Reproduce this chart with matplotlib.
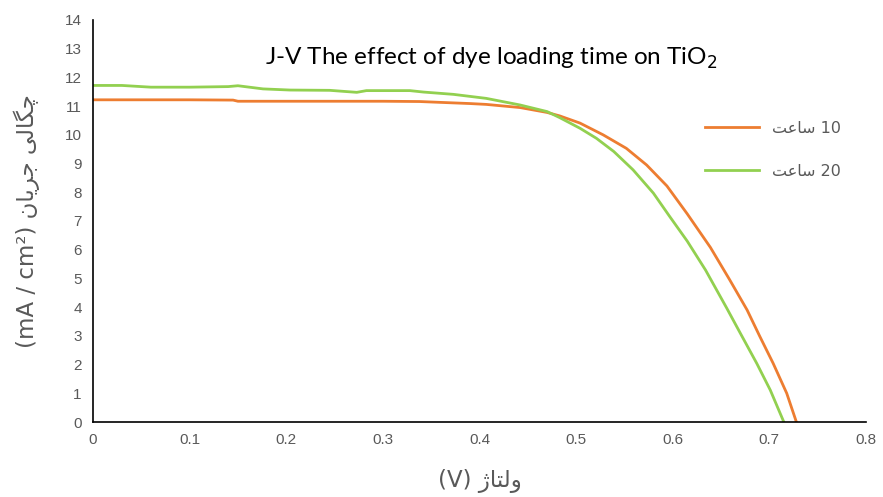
import matplotlib
matplotlib.use("Agg")
import matplotlib.pyplot as plt

# J-V data
v_10h = [0, 0.05, 0.10, 0.145, 0.15, 0.20, 0.25, 0.30, 0.338, 0.36, 0.39, 0.407,
         0.442, 0.470, 0.483, 0.504, 0.528, 0.552, 0.573, 0.594, 0.615, 0.639,
         0.659, 0.677, 0.690, 0.704, 0.718, 0.728]
j_10h = [11.22, 11.22, 11.22, 11.21, 11.17, 11.17, 11.17, 11.17, 11.16, 11.13, 11.09, 11.06,
         10.95, 10.78, 10.66, 10.41, 10.00, 9.53, 8.95, 8.22, 7.25, 6.08,
         4.95, 3.90, 2.99, 2.04, 1.00, 0]

v_20h = [0, 0.03, 0.06, 0.10, 0.14, 0.15, 0.176, 0.204, 0.245, 0.273, 0.283, 0.328,
         0.342, 0.373, 0.407, 0.442, 0.470, 0.483, 0.504, 0.521, 0.539, 0.559,
         0.580, 0.597, 0.615, 0.634, 0.656, 0.670, 0.687, 0.701, 0.715]
j_20h = [11.72, 11.72, 11.66, 11.66, 11.68, 11.71, 11.60, 11.56, 11.55, 11.48, 11.54, 11.54,
         11.49, 11.41, 11.27, 11.04, 10.81, 10.60, 10.23, 9.88, 9.42, 8.78,
         7.97, 7.15, 6.30, 5.29, 3.96, 3.09, 2.04, 1.11, 0]

x_ticks = [0, 0.1, 0.2, 0.3, 0.4, 0.5, 0.6, 0.7, 0.8]
x_tick_labels = ["0", "0.1", "0.2", "0.3", "0.4", "0.5", "0.6", "0.7", "0.8"]
y_ticks = list(range(0, 15))

# matplotlib does no Arabic shaping, so pick the contextual forms by hand
# forms: (isolated, final, initial, medial)
FORMS = {
    "ا": ("\uFE8D", "\uFE8E", None, None),
    "ت": ("\uFE95", "\uFE96", "\uFE97", "\uFE98"),
    "ج": ("\uFE9D", "\uFE9E", "\uFE9F", "\uFEA0"),
    "ر": ("\uFEAD", "\uFEAE", None, None),
    "ژ": ("\uFB8A", "\uFB8B", None, None),
    "س": ("\uFEB1", "\uFEB2", "\uFEB3", "\uFEB4"),
    "ع": ("\uFEC9", "\uFECA", "\uFECB", "\uFECC"),
    "ل": ("\uFEDD", "\uFEDE", "\uFEDF", "\uFEE0"),
    "ن": ("\uFEE5", "\uFEE6", "\uFEE7", "\uFEE8"),
    "و": ("\uFEED", "\uFEEE", None, None),
    "ی": ("\uFBFC", "\uFBFD", "\uFBFE", "\uFBFF"),
    "چ": ("\uFB7A", "\uFB7B", "\uFB7C", "\uFB7D"),
    "گ": ("\uFB92", "\uFB93", "\uFB94", "\uFB95"),
}


def shape(word):
    out = []
    for i, ch in enumerate(word):
        f = FORMS[ch]
        prev = word[i - 1] if i > 0 else None
        nxt = word[i + 1] if i + 1 < len(word) else None
        join_prev = prev is not None and FORMS[prev][2] is not None
        join_next = nxt is not None and f[2] is not None
        if join_prev and join_next:
            out.append(f[3])
        elif join_prev:
            out.append(f[1])
        elif join_next:
            out.append(f[2])
        else:
            out.append(f[0])
    # visual order, left to right
    return "".join(reversed(out))


ylabel = "(mA / cm\u00b2) " + shape("جریان") + " " + shape("چگالی")
xlabel = "(V) " + shape("ولتاژ")
label_10 = shape("ساعت") + " 10"
label_20 = shape("ساعت") + " 20"

gray = "#595959"
fam = ["DejaVu Sans"]

fig = plt.figure(figsize=(8.83, 4.97), dpi=100)
ax = fig.add_axes([0.1053, 0.1509, 0.8754, 0.8089])

ax.plot(v_10h, j_10h, color="#ED7D31", lw=2.0, label=label_10)
ax.plot(v_20h, j_20h, color="#92D050", lw=2.0, label=label_20)

ax.set_xlim(0, 0.8)
ax.set_ylim(0, 14)
ax.set_xticks(x_ticks)
ax.set_xticklabels(x_tick_labels)
ax.set_yticks(y_ticks)
ax.tick_params(length=0, labelsize=11, labelcolor=gray, pad=8)
for lab in ax.get_xticklabels() + ax.get_yticklabels():
    lab.set_family("Liberation Sans")

for s in ["top", "right"]:
    ax.spines[s].set_visible(False)
ax.spines["left"].set_color("black")
ax.spines["bottom"].set_color("black")
ax.spines["left"].set_linewidth(1.2)
ax.spines["bottom"].set_linewidth(1.2)

ax.set_ylabel(ylabel, fontsize=16.5, color=gray, family=fam, labelpad=18)
ax.set_xlabel(xlabel, fontsize=16.5, color=gray, family=fam, labelpad=16)

ax.text(0.515, 0.905, "J-V The effect of dye loading time on TiO$_2$",
        transform=ax.transAxes, ha="center", va="center", fontsize=17.5,
        family="Lato", color="black")

leg = ax.legend(loc="upper left", bbox_to_anchor=(0.773, 0.785), frameon=False,
                handlelength=3.4, labelspacing=1.75, prop={"family": fam, "size": 11.5})
for t in leg.get_texts():
    t.set_color(gray)

fig.savefig("out.png", dpi=100)
plt.close(fig)
